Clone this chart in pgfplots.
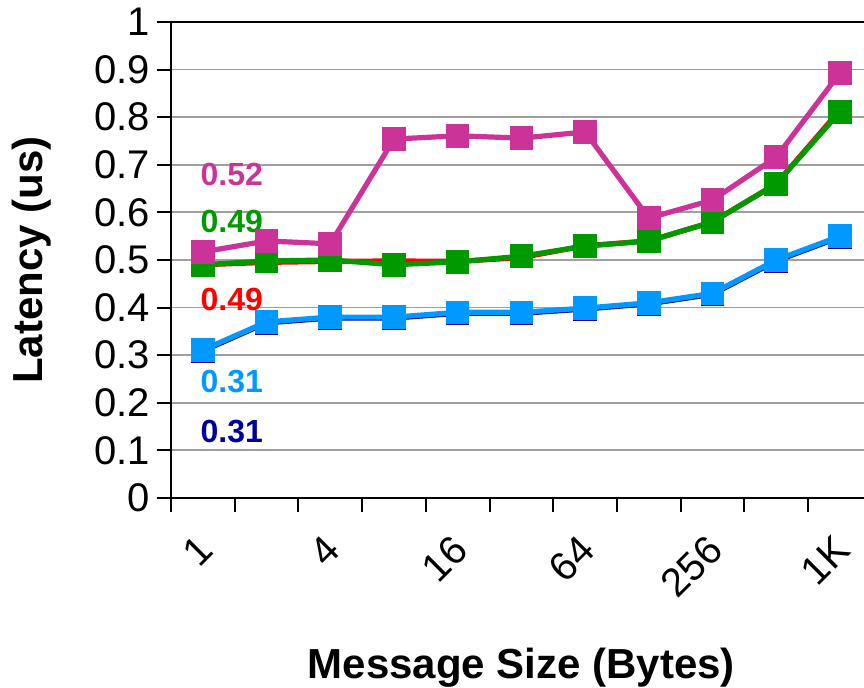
\documentclass[border=0pt]{standalone}
\usepackage{pgfplots}
\pgfplotsset{compat=1.18}
\usepackage{fontspec}
\setmainfont{Liberation Sans}
\definecolor{cmag}{HTML}{CC3399}
\definecolor{cgreen}{HTML}{009900}
\definecolor{cred}{HTML}{FF0000}
\definecolor{clblue}{HTML}{0099FF}
\definecolor{cdblue}{HTML}{000099}
\begin{document}
\begin{tikzpicture}
\begin{axis}[
  at={(0,0)}, anchor=south west,
  scale only axis,
  width=350.4pt, height=238pt,
  xmin=-0.5, xmax=10.5,
  ymin=0, ymax=1,
  ytick={0,0.1,...,1.01},
  yticklabels={0,0.1,0.2,0.3,0.4,0.5,0.6,0.7,0.8,0.9,1},
  xtick={-0.5,0.5,...,9.6},
  xticklabels={},
  extra x ticks={0,2,4,6,8,10},
  extra x tick labels={1,4,16,64,256,1K},
  extra x tick style={major tick length=0pt, grid=none,
     xticklabel style={xshift=3.8pt, yshift=-20pt, rotate=45, anchor=east}},
  tick align=outside,
  tick pos=left,
  major tick length=7pt,
  ymajorgrids,
  grid style={gray!75, line width=0.9pt},
  axis line style={black, line width=1pt},
  every tick/.style={black, line width=1pt},
  tick label style={font=\fontsize{20}{24}\selectfont},
  /pgf/number format/assume math mode=true,
  xlabel={\bfseries Message Size (Bytes)},
  ylabel={\bfseries Latency (us)},
  xlabel style={font=\fontsize{21}{25}\selectfont, at={(axis description cs:0.5,0)}, anchor=center, yshift=-85pt},
  ylabel style={font=\fontsize{21}{25}\selectfont, at={(axis description cs:-0.1983,0.5)}, anchor=center},
  clip=false,
]
\addplot[cdblue, line width=2.6pt, mark=square*, mark size=4.6pt, mark options={solid}] coordinates {
(0,0.309) (1,0.368) (2,0.378) (3,0.378) (4,0.388) (5,0.388) (6,0.397) (7,0.408) (8,0.428) (9,0.498) (10,0.548)};
\addplot[clblue, line width=2.6pt, mark=square*, mark size=4.6pt] coordinates {
(0,0.311) (1,0.370) (2,0.380) (3,0.380) (4,0.390) (5,0.390) (6,0.399) (7,0.410) (8,0.430) (9,0.500) (10,0.550)};
\addplot[cred, line width=2.6pt, mark=square*, mark size=2pt] coordinates {
(0,0.490) (1,0.495) (2,0.497) (3,0.498) (4,0.497) (5,0.505) (6,0.530) (7,0.540) (8,0.580) (9,0.660) (10,0.815)};
\addplot[cgreen, line width=2.6pt, mark=square*, mark size=4.6pt] coordinates {
(0,0.490) (1,0.498) (2,0.500) (3,0.490) (4,0.496) (5,0.508) (6,0.529) (7,0.540) (8,0.580) (9,0.660) (10,0.811)};
\addplot[cmag, line width=2.6pt, mark=square*, mark size=4.6pt] coordinates {
(0,0.517) (1,0.540) (2,0.534) (3,0.754) (4,0.761) (5,0.756) (6,0.769) (7,0.588) (8,0.626) (9,0.716) (10,0.893)};
\node[text=cmag, font=\fontsize{16}{19}\selectfont\bfseries] at (axis cs:0.455,0.679) {0.52};
\node[text=cgreen, font=\fontsize{16}{19}\selectfont\bfseries] at (axis cs:0.455,0.580) {0.49};
\node[text=cred, font=\fontsize{16}{19}\selectfont\bfseries] at (axis cs:0.455,0.416) {0.49};
\node[text=clblue, font=\fontsize{16}{19}\selectfont\bfseries] at (axis cs:0.455,0.244) {0.31};
\node[text=cdblue, font=\fontsize{16}{19}\selectfont\bfseries] at (axis cs:0.455,0.139) {0.31};
\end{axis}
\pgfresetboundingbox
\path[use as bounding box] (-85.5pt,-95pt) rectangle (346.5pt,249pt);
\end{tikzpicture}
\end{document}
